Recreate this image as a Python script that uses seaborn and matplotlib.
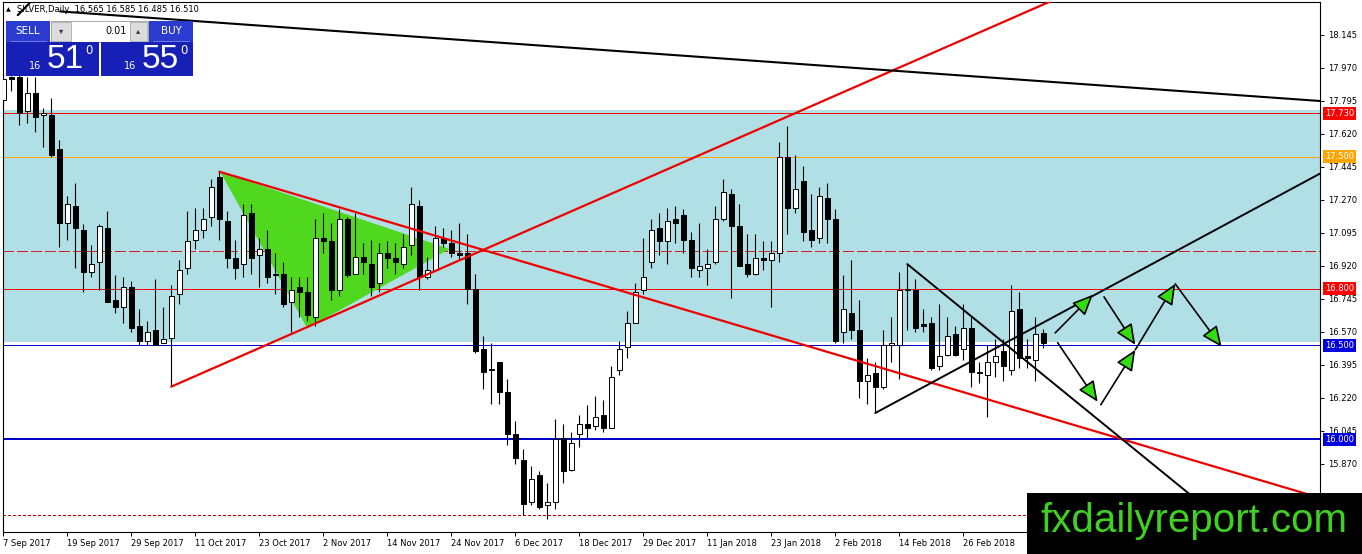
import numpy as np
import matplotlib
matplotlib.use("Agg")
import matplotlib.pyplot as plt
import matplotlib.transforms as mtransforms
from matplotlib.patches import Rectangle, Polygon
import seaborn as sns

# ==============================
# DATA (SILVER, Daily)
# ==============================
opens = [17.80, 17.92, 17.92, 17.74, 17.84, 17.72, 17.72, 17.54, 17.15, 17.24,
         17.11, 16.89, 16.94, 17.12, 16.74, 16.70, 16.81, 16.60, 16.52, 16.58,
         16.51, 16.54, 16.77, 16.91, 17.06, 17.11, 17.18, 17.39, 17.16, 16.96,
         16.93, 17.20, 16.98, 17.01, 16.87, 16.88, 16.73, 16.81, 16.78, 16.65,
         17.07, 17.05, 16.79, 17.17, 16.88, 16.97, 16.93, 16.83, 16.99, 16.96,
         16.93, 17.03, 17.24, 16.86, 16.90, 17.07, 17.04, 16.99, 16.99, 16.80,
         16.48, 16.37, 16.41, 16.25, 16.03, 15.89, 15.67, 15.81, 15.65, 15.67,
         16.01, 15.84, 16.03, 16.08, 16.07, 16.13, 16.06, 16.37, 16.49, 16.62,
         16.79, 16.94, 17.12, 17.05, 17.17, 17.19, 17.06, 16.90, 16.91, 16.94,
         17.17, 17.30, 17.13, 16.93, 16.88, 16.96, 16.95, 16.99, 17.50, 17.23,
         17.37, 17.11, 17.07, 17.28, 17.17, 16.57, 16.67, 16.58, 16.31, 16.35,
         16.28, 16.50, 16.50, 16.79, 16.79, 16.61, 16.62, 16.39, 16.45, 16.56,
         16.48, 16.59, 16.36, 16.34, 16.41, 16.47, 16.37, 16.69, 16.44, 16.42,
         16.565]
highs = [17.95, 17.93, 17.95, 17.92, 17.92, 17.76, 17.81, 17.59, 17.29, 17.36,
         17.14, 17.03, 17.14, 17.21, 16.87, 16.86, 16.84, 16.69, 16.63, 16.85,
         16.70, 16.82, 16.95, 17.21, 17.23, 17.23, 17.38, 17.42, 17.21, 17.06,
         17.25, 17.25, 17.07, 17.11, 16.99, 16.94, 16.86, 16.86, 16.86, 17.17,
         17.20, 17.15, 17.22, 17.18, 17.20, 17.04, 17.06, 17.04, 17.05, 17.04,
         17.09, 17.34, 17.27, 16.97, 17.13, 17.12, 17.11, 17.15, 17.09, 16.88,
         16.55, 16.51, 16.41, 16.32, 16.10, 15.95, 15.86, 15.83, 15.77, 16.11,
         16.08, 16.04, 16.13, 16.18, 16.23, 16.21, 16.39, 16.52, 16.68, 16.83,
         17.07, 17.17, 17.20, 17.23, 17.24, 17.22, 17.10, 17.15, 17.01, 17.24,
         17.38, 17.33, 17.25, 17.09, 17.09, 17.05, 17.05, 17.58, 17.66, 17.51,
         17.45, 17.30, 17.34, 17.36, 17.22, 16.87, 16.95, 16.74, 16.43, 16.41,
         16.58, 16.65, 16.89, 16.93, 16.85, 16.69, 16.65, 16.72, 16.65, 16.60,
         16.72, 16.65, 16.41, 16.50, 16.53, 16.53, 16.82, 16.78, 16.53, 16.65,
         16.585]
lows = [17.78, 17.85, 17.67, 17.68, 17.63, 17.55, 17.50, 17.02, 17.06, 16.91,
        16.78, 16.86, 16.79, 16.73, 16.67, 16.62, 16.57, 16.50, 16.50, 16.50,
        16.51, 16.28, 16.72, 16.88, 17.01, 17.07, 17.13, 17.06, 16.91, 16.85,
        16.86, 16.88, 16.81, 16.83, 16.77, 16.70, 16.57, 16.65, 16.63, 16.60,
        16.99, 16.74, 16.76, 16.86, 16.88, 16.88, 16.76, 16.78, 16.91, 16.88,
        16.91, 16.98, 16.79, 16.85, 16.90, 17.02, 16.97, 16.95, 16.72, 16.46,
        16.27, 16.19, 16.19, 15.97, 15.87, 15.60, 15.65, 15.63, 15.58, 15.63,
        15.77, 15.83, 15.96, 16.01, 16.05, 16.04, 16.06, 16.34, 16.43, 16.62,
        16.77, 16.91, 16.98, 16.93, 17.04, 16.99, 16.86, 16.86, 16.82, 16.93,
        17.16, 16.75, 16.92, 16.86, 16.87, 16.90, 16.70, 16.94, 17.09, 17.20,
        17.05, 17.02, 17.04, 17.04, 16.51, 16.51, 16.53, 16.22, 16.19, 16.14,
        16.27, 16.41, 16.32, 16.58, 16.57, 16.57, 16.37, 16.37, 16.44, 16.44,
        16.42, 16.28, 16.30, 16.12, 16.33, 16.31, 16.34, 16.38, 16.38, 16.31,
        16.485]
closes = [17.91, 17.91, 17.73, 17.84, 17.71, 17.73, 17.51, 17.15, 17.25, 17.12,
          16.89, 16.93, 17.13, 16.73, 16.70, 16.81, 16.59, 16.52, 16.57, 16.50,
          16.53, 16.76, 16.90, 17.05, 17.11, 17.17, 17.34, 17.17, 16.96, 16.91,
          17.19, 16.96, 17.01, 16.86, 16.88, 16.72, 16.79, 16.78, 16.66, 17.07,
          17.05, 16.79, 17.17, 16.87, 16.97, 16.94, 16.81, 16.99, 16.96, 16.94,
          17.02, 17.25, 16.86, 16.90, 17.07, 17.04, 16.99, 16.98, 16.80, 16.47,
          16.36, 16.37, 16.25, 16.03, 15.90, 15.66, 15.79, 15.64, 15.67, 16.00,
          15.83, 15.98, 16.08, 16.06, 16.12, 16.06, 16.33, 16.48, 16.62, 16.78,
          16.86, 17.11, 17.05, 17.16, 17.15, 17.06, 16.91, 16.92, 16.93, 17.17,
          17.31, 17.13, 16.92, 16.88, 16.96, 16.95, 16.99, 17.50, 17.23, 17.33,
          17.10, 17.06, 17.29, 17.17, 16.52, 16.69, 16.58, 16.31, 16.34, 16.28,
          16.50, 16.51, 16.79, 16.80, 16.59, 16.60, 16.38, 16.44, 16.55, 16.45,
          16.59, 16.36, 16.35, 16.41, 16.44, 16.39, 16.68, 16.43, 16.43, 16.56,
          16.51]

date_labels = ['7 Sep 2017', '19 Sep 2017', '29 Sep 2017', '11 Oct 2017', '23 Oct 2017',
               '2 Nov 2017', '14 Nov 2017', '24 Nov 2017', '6 Dec 2017', '18 Dec 2017',
               '29 Dec 2017', '11 Jan 2018', '23 Jan 2018', '2 Feb 2018', '14 Feb 2018',
               '26 Feb 2018']
price_ticks = [18.145, 17.970, 17.795, 17.620, 17.445, 17.270, 17.095, 16.920,
               16.745, 16.570, 16.395, 16.220, 16.045, 15.870, 15.695]

# zone + levels
zone_low, zone_high = 16.515, 17.748
level_red = [17.730, 16.800]
level_orange = 17.500
level_blue = [16.500, 16.000]
level_dash = 17.000
level_dot = 15.600

# trendlines: (bar index, price) anchor pairs
red_up = [(21, 16.28), (85, 17.47)]
red_down = [(27, 17.42), (164.6, 15.69)]
black_long = [(7.1, 18.27), (164.6, 17.795)]
black_stroke = [(1.8, 18.25), (3.3, 18.315)]
black_down = [(113, 16.93), (148, 15.72)]
black_up = [(109, 16.14), (164.6, 17.41)]
tri_x = [27.1, 38.0, 55.8]
tri_y = [17.42, 16.59, 17.01]

# scenario arrows (start, end)
arrows = [((131.5, 16.565), (136.2, 16.767)),
          ((137.6, 16.756), (141.5, 16.502)),
          ((131.8, 16.513), (136.8, 16.200)),
          ((137.2, 16.184), (141.5, 16.475)),
          ((141.5, 16.475), (146.5, 16.825)),
          ((146.5, 16.825), (152.3, 16.491))]

# ==============================
# FIGURE
# ==============================
sns.set_theme(style='white')
plt.rcParams['font.family'] = ['DejaVu Sans']

W, H = 1362, 554
fig = plt.figure(figsize=(W / 100, H / 100), dpi=100, facecolor='white')


def fx(px):
    return px / W


def fy(py):
    return 1 - py / H


ax = fig.add_axes([fx(3), fy(532), (1320 - 3) / W, (532 - 2) / H])
ax.patch.set_visible(False)
XMIN, XMAX = -0.04, 164.6
ax.set_xlim(XMIN, XMAX)
ax.set_ylim(15.509, 18.320)

# zone and horizontal levels (1px, like the terminal)
PX1 = 0.7
ax.axhspan(zone_low, zone_high, color='#B0E0E6', zorder=0.5, lw=0)
for lv in level_red:
    ax.axhline(lv, color='#FF0000', lw=PX1, antialiased=False, zorder=1)
ax.axhline(level_orange, color='#FFA500', lw=PX1, antialiased=False, zorder=1)
ax.axhline(level_blue[0], color='#0000CD', lw=PX1, antialiased=False, zorder=1)
ax.axhline(level_blue[1], color='#0000CD', lw=2 * PX1, antialiased=False, zorder=1)
ax.axhline(level_dash, color='#D02020', lw=PX1, dashes=(11, 4), antialiased=False, zorder=1)
ax.axhline(level_dot, color='#C00000', lw=PX1, dashes=(2.5, 2.5), antialiased=False, zorder=1)

# green triangle
ax.add_patch(Polygon(list(zip(tri_x, tri_y)), closed=True, fc='#4FD81E', ec='none', zorder=1.5))

# candles
o = np.array(opens)
h = np.array(highs)
l = np.array(lows)
c = np.array(closes)
idx = np.arange(len(o))
bull = c >= o
ax.vlines(idx, l, h, color='black', lw=0.8, zorder=3)
body_lo = np.minimum(o, c)
body_h = np.maximum(np.abs(c - o), 0.005)
ax.bar(idx[bull], body_h[bull], bottom=body_lo[bull], width=0.6,
       color='white', edgecolor='black', linewidth=0.7, zorder=3.5)
ax.bar(idx[~bull], body_h[~bull], bottom=body_lo[~bull], width=0.6,
       color='black', edgecolor='black', linewidth=0.7, zorder=3.5)


def ray(pts, x_end):
    (x0, y0), (x1, y1) = pts
    k = (y1 - y0) / (x1 - x0)
    return [x0, x_end], [y0, y0 + k * (x_end - x0)]


xs, ys = ray(red_up, XMAX)
ax.plot(xs, ys, color='#EE0000', lw=1.6, zorder=4)
xs, ys = ray(red_down, XMAX)
ax.plot(xs, ys, color='#EE0000', lw=1.6, zorder=4)
xs, ys = ray(black_long, XMAX)
ax.plot(xs, ys, color='black', lw=1.5, zorder=4)
ax.plot(*zip(*black_stroke), color='black', lw=1.5, zorder=4)
xs, ys = ray(black_down, XMAX)
ax.plot(xs, ys, color='black', lw=1.4, zorder=4)
xs, ys = ray(black_up, XMAX)
ax.plot(xs, ys, color='black', lw=1.4, zorder=4)

for (p0, p1) in arrows:
    ax.annotate('', xy=p1, xytext=p0, zorder=5,
                arrowprops=dict(arrowstyle='-|>,head_length=0.9,head_width=0.4',
                                fc='#33DD11', ec='black', lw=1.2,
                                shrinkA=0, shrinkB=0, mutation_scale=14))

# axes / ticks
for s in ax.spines.values():
    s.set_color('black')
    s.set_linewidth(0.8)
    s.set_visible(True)
ax.set_xticks(np.arange(len(date_labels)) * 8)
ax.set_xticklabels(date_labels, ha='left', fontsize=6)
ax.yaxis.tick_right()
ax.set_yticks(price_ticks)
ax.set_yticklabels([f'{v:.3f}' for v in price_ticks], fontsize=6)
ax.tick_params(axis='x', direction='out', length=3, width=0.7, pad=2, colors='black', bottom=True)
ax.tick_params(axis='y', direction='out', length=3, width=0.7, pad=3, colors='black', right=True, left=False)
ax.grid(False)

# level boxes on the price scale
blend = mtransforms.blended_transform_factory(ax.transAxes, ax.transData)
for lv, col in [(17.730, '#FF0000'), (17.500, '#FFA500'), (16.800, '#FF0000'),
                (16.500, '#0000E0'), (16.000, '#0000E0')]:
    ax.text(1.0035, lv, f'{lv:.3f}', transform=blend, ha='left', va='center',
            fontsize=6, color='white', zorder=6, clip_on=False,
            bbox=dict(boxstyle='square,pad=0.25', fc=col, ec='none'))

# ==============================
# TRADE PANEL (top-left)
# ==============================
fig.text(fx(6), fy(10), '\u25B2', fontsize=4.5, color='black', va='center', zorder=-1)
fig.text(fx(17), fy(10), 'SILVER,Daily  16.565 16.585 16.485 16.510', fontsize=6,
         color='black', va='center', zorder=-1)


def box(x0, y0, x1, y1, col, ec='none', lw=0):
    fig.add_artist(Rectangle((fx(x0), fy(y1)), fx(x1) - fx(x0), fy(y0) - fy(y1),
                             transform=fig.transFigure, fc=col, ec=ec, lw=lw, zorder=5))


box(6, 21, 50, 42, '#2B3BCF')
box(149, 21, 193, 42, '#2B3BCF')
box(51, 21, 148, 42, 'white', ec='#9A9A9A', lw=0.6)
box(51, 22, 71, 41, '#DCDCDC', ec='#A0A0A0', lw=0.5)
box(130, 22, 147, 41, '#DCDCDC', ec='#A0A0A0', lw=0.5)
box(6, 42, 99, 76, '#1620B6')
box(101, 42, 193, 76, '#1620B6')
fig.add_artist(plt.Line2D([fx(10), fx(46)], [fy(41), fy(41)], color='#7C86E0', lw=0.6, zorder=6))
fig.add_artist(plt.Line2D([fx(153), fx(189)], [fy(41), fy(41)], color='#7C86E0', lw=0.6, zorder=6))

fig.text(fx(28), fy(31), 'SELL', fontsize=7.5, color='white', ha='center', va='center', zorder=7)
fig.text(fx(171), fy(31), 'BUY', fontsize=7.5, color='white', ha='center', va='center', zorder=7)
fig.text(fx(61), fy(31), '\u25BE', fontsize=6, color='#333333', ha='center', va='center', zorder=7)
fig.text(fx(138), fy(31), '\u25B4', fontsize=6, color='#333333', ha='center', va='center', zorder=7)
fig.text(fx(127), fy(31), '0.01', fontsize=7, color='black', ha='right', va='center', zorder=7)
for x16, xbig, xsup, big in [(35, 65, 89, '51'), (130, 160, 184, '55')]:
    fig.text(fx(x16), fy(66), '16', fontsize=7, color='white', ha='center', va='center', zorder=7)
    fig.text(fx(xbig), fy(60), big, fontsize=24, color='white', ha='center', va='center',
             family=['Liberation Sans', 'DejaVu Sans'], zorder=7)
    fig.text(fx(xsup), fy(51), '0', fontsize=8.5, color='white', ha='center', va='center', zorder=7)

# ==============================
# WATERMARK BOX
# ==============================
box(1027, 493, 1362, 554, 'black')
fig.text(fx(1194), fy(521), 'fxdailyreport.com', fontsize=29, color='#3FD11F',
         ha='center', va='center', family=['Liberation Sans', 'DejaVu Sans'], zorder=7)

fig.savefig('out.png', dpi=100, facecolor='white')
plt.close(fig)
